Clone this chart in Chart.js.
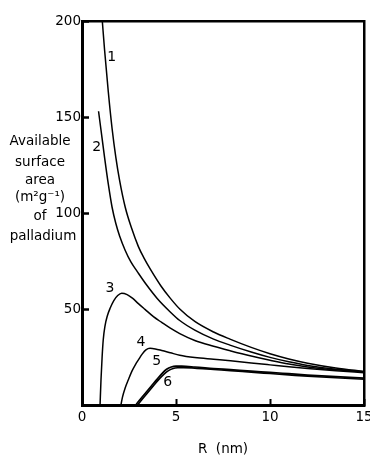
<!DOCTYPE html>
<html>
<head>
<meta charset="utf-8">
<script src="https://cdn.jsdelivr.net/npm/chart.js@4/dist/chart.umd.min.js"></script>
<style>
  html, body { margin: 0; padding: 0; background: #fff; }
  canvas { display: block; }
</style>
</head>
<body>
<canvas id="chart" width="370" height="456"></canvas>
<script>
// R (nm) along each curve and the surface area (m2 g-1)
const r1 = [1.08, 1.2, 1.4, 1.6, 1.8, 2.0, 2.3, 2.64, 3.0, 3.3, 3.65, 4.2, 4.68, 5.2, 6.0, 7.0, 7.87, 9.0, 10.0, 11.0, 12.0, 13.5, 15.0];
const s1 = [200, 185, 163, 144, 129, 117, 103, 92, 82.5, 76.5, 70.5, 62, 55.8, 50, 43.5, 38, 34.3, 30, 26.7, 24, 21.8, 19.3, 17.5];

const r2 = [0.88, 1.0, 1.2, 1.4, 1.6, 1.8, 2.0, 2.3, 2.6, 2.94, 3.4, 4.0, 4.68, 5.2, 6.0, 7.0, 7.87, 9.0, 10.0, 11.0, 12.0, 13.5, 15.0];
const s2 = [153, 144, 129, 115, 103, 94.5, 88, 80.5, 74.5, 69.5, 63, 55.5, 48.6, 44, 39, 34.3, 31.2, 27.6, 24.8, 22.5, 20.6, 18.6, 17.3];

const r3 = [0.96, 1.01, 1.07, 1.13, 1.22, 1.35, 1.5, 1.7, 1.9, 2.11, 2.4, 2.7, 3.0, 3.35, 3.8, 4.24, 4.7, 5.2, 6.0, 7.0, 7.87, 9.0, 10.0, 11.0, 12.0, 13.5, 15.0];
const s3 = [0, 13, 25, 34, 41, 46.5, 50.5, 54.5, 57, 58.2, 57.5, 55.5, 52.8, 49.8, 46, 43, 40, 37.2, 33.6, 30.6, 28.3, 25.5, 23.3, 21.3, 19.8, 18.3, 17.3];

const r4 = [2.07, 2.15, 2.3, 2.46, 2.65, 2.85, 3.0, 3.2, 3.4, 3.62, 3.9, 4.24, 4.7, 5.2, 6.0, 7.0, 7.9, 9.0, 10.0, 11.0, 12.0, 13.5, 15.0];
const s4 = [0, 4, 9, 13, 17.5, 21.2, 23.5, 26.5, 28.7, 29.5, 29.2, 28.4, 27.2, 25.9, 24.7, 23.8, 23.0, 21.9, 20.9, 19.9, 19.0, 17.8, 16.8];

const r5 = [2.86, 3.1, 3.4, 3.7, 4.0, 4.25, 4.5, 4.75, 5.0, 5.3, 6.0, 7.0, 7.9, 9.0, 10.0, 11.0, 12.0, 13.5, 15.0];
const s5 = [0, 3, 6.5, 10, 13.5, 16.3, 18.6, 19.8, 20.2, 20.2, 19.8, 19.0, 18.4, 17.6, 17.0, 16.3, 15.6, 14.8, 14.0];

const r6 = [2.96, 3.2, 3.5, 3.8, 4.1, 4.35, 4.6, 4.85, 5.1, 5.4, 6.0, 7.0, 7.9, 9.0, 10.0, 11.0, 12.0, 13.5, 15.0];
const s6 = [0, 3, 6.5, 10, 13.5, 16, 17.9, 19.0, 19.4, 19.5, 19.2, 18.5, 17.9, 17.1, 16.4, 15.7, 15.0, 14.2, 13.4];

const curveNames = ['1', '2', '3', '4', '5', '6'];
const xTicks = [0, 5, 10, 15];
const yTicks = [50, 100, 150, 200];
const yTitleLines = ['Available', 'surface', 'area', '(m²g⁻¹)', 'of', 'palladium'];
const xTitle = 'R  (nm)';

// where the curve numbers sit, in data units (R, area)
const curveLabelAt = [[1.58, 181], [0.78, 134], [1.49, 61], [3.14, 32.5], [3.97, 22.5], [4.56, 12]];

const FONT = 'DejaVu Sans';
const rs = [r1, r2, r3, r4, r5, r6];
const ss = [s1, s2, s3, s4, s5, s6];

const datasets = rs.map((r, k) => ({
    label: curveNames[k],
    data: r.map((x, i) => ({ x: x, y: ss[k][i] })),
    borderColor: '#000',
    borderWidth: k >= 4 ? 1.7 : 1.5,
    pointRadius: 0,
    fill: false,
    cubicInterpolationMode: 'monotone'
}));

// text that is not a scale title: the stacked y label and the curve numbers
const textPlugin = {
    id: 'texts',
    afterDraw(chart) {
        const ctx = chart.ctx;
        const x = chart.scales.x, y = chart.scales.y;
        ctx.save();
        ctx.fillStyle = '#000';
        ctx.font = '13.5px "' + FONT + '"';
        ctx.textAlign = 'center';
        ctx.textBaseline = 'alphabetic';
        const base = [145, 166, 184, 201, 220, 240];
        yTitleLines.forEach((t, i) => ctx.fillText(t, i === 5 ? 43 : 40, base[i]));

        ctx.font = '14px "' + FONT + '"';
        ctx.textBaseline = 'middle';
        curveNames.forEach((n, i) => {
            const p = curveLabelAt[i];
            ctx.fillText(n, x.getPixelForValue(p[0]), y.getPixelForValue(p[1]));
        });
        ctx.restore();
    }
};

new Chart(document.getElementById('chart'), {
    type: 'line',
    data: { datasets: datasets },
    plugins: [textPlugin],
    options: {
        responsive: false,
        animation: false,
        parsing: false,
        layout: { padding: { left: 0, right: 6, top: 21, bottom: 0 } },
        plugins: { legend: { display: false }, tooltip: { enabled: false } },
        scales: {
            x: {
                type: 'linear', position: 'bottom', min: 0, max: 15,
                afterBuildTicks: s => { s.ticks = xTicks.map(v => ({ value: v })); },
                afterFit: s => { s.height = 51; s.paddingLeft = 0; s.paddingRight = 0; },
                ticks: { color: '#000', font: { family: FONT, size: 13.5 }, padding: 10, maxRotation: 0 },
                grid: { drawOnChartArea: false, tickLength: -6, tickWidth: 2, tickColor: '#000' },
                border: { display: true, width: 3, color: '#000' },
                title: { display: true, text: xTitle, color: '#000', font: { family: FONT, size: 13.5 }, padding: { top: 0, bottom: -2 } }
            },
            y: {
                type: 'linear', position: 'left', min: 0, max: 200,
                afterBuildTicks: s => { s.ticks = yTicks.map(v => ({ value: v })); },
                afterFit: s => { s.width = 82; },
                ticks: { color: '#000', font: { family: FONT, size: 13.5 }, padding: 8 },
                grid: { drawOnChartArea: false, tickLength: -7, tickWidth: 2.5, tickColor: '#000' },
                border: { display: true, width: 3, color: '#000' }
            },
            xTop: {
                type: 'linear', position: 'top', min: 0, max: 15,
                afterFit: s => { s.height = 0; },
                ticks: { display: false },
                grid: { drawOnChartArea: false, drawTicks: false },
                border: { display: true, width: 2.5, color: '#000' }
            },
            yRight: {
                type: 'linear', position: 'right', min: 0, max: 200,
                afterFit: s => { s.width = 0; },
                ticks: { display: false },
                grid: { drawOnChartArea: false, drawTicks: false },
                border: { display: true, width: 2.5, color: '#000' }
            }
        }
    }
});
</script>
</body>
</html>
